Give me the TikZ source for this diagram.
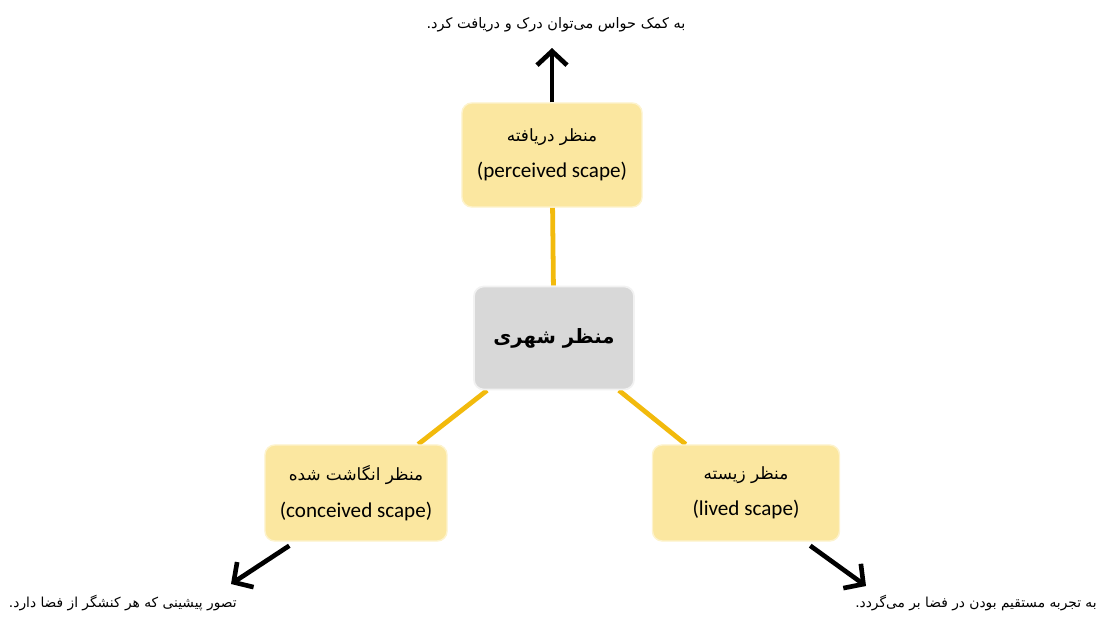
\documentclass[tikz,border=0pt]{standalone}
\usepackage{fontspec}
\setmainfont{Carlito}
\newfontfamily\persianfont[Script=Arabic]{DejaVu Sans}
\TeXXeTstate=1
\usetikzlibrary{positioning}
\usetikzlibrary{arrows.meta}
\usetikzlibrary{backgrounds}
\definecolor{scapeyellow}{RGB}{251,231,160}
\definecolor{scapeedge}{RGB}{253,243,205}
\definecolor{citygray}{RGB}{216,216,216}
\definecolor{linkyellow}{RGB}{242,186,12}
\tikzset{
        boxnode/.style={align=center,inner sep=0pt,rounded corners=7pt},
        % Scape nodes
        node_scape/.style={boxnode, rectangle, fill=scapeyellow, draw=scapeedge, line width=1pt, font=\fontsize{15}{26}\selectfont},
        % Centre node
        node_city/.style={boxnode, rectangle, fill=citygray, draw=white!90!gray, line width=1.2pt, font=\fontsize{14}{18}\selectfont},
        % Notes
        node_note/.style={inner sep=0pt, font=\persianfont\fontsize{10.3}{13}\selectfont},
        node_note_small/.style={node_note, font=\persianfont\fontsize{9.8}{13}\selectfont},
        % Links
        edge_link/.style={linkyellow, line width=3.4pt},
        edge_arrow/.style={black, line width=3.3pt, -{Straight Barb[length=0.35cm,width=0.75cm]}}
}
\newcommand{\fa}[1]{{\persianfont\fontsize{12}{26}\selectfont\beginR #1\endR}}

\begin{document}
\begin{tikzpicture}[x=0.025cm, y=-0.025cm]
    \useasboundingbox (0,0) rectangle (1101,620);
    \node[node_city, minimum width=4cm, minimum height=2.575cm] (city) at (554,338) {\persianfont\bfseries\beginR منظر شهری\endR};
    \node[node_scape, minimum width=4.5cm, minimum height=2.6cm] (perceived) at (552,155)
        {\fa{منظر دریافته}\\(perceived scape)};
    \node[node_scape, minimum width=4.55cm, minimum height=2.4cm] (conceived) at (356,493)
        {\fa{منظر انگاشت شده}\\(conceived scape)};
    \node[node_scape, minimum width=4.675cm, minimum height=2.4cm] (lived) at (746,493)
        {\fa{منظر زیسته}\\(lived scape)};
    \begin{scope}[on background layer]
        \draw[edge_link] (city) -- (perceived);
        \draw[edge_link] (city) -- (conceived);
        \draw[edge_link] (city) -- (lived);
    \end{scope}
    \node[node_note] (perceivedNote) at (556,25) {\beginR به کمک حواس می‌توان درک و دریافت کرد.\endR};
    \node[node_note_small, anchor=east] (conceivedNote) at (237,603) {\beginR تصور پیشینی که هر کنشگر از فضا دارد.\endR};
    \node[node_note_small, anchor=east] (livedNote) at (1097,603) {\beginR به تجربه مستقیم بودن در فضا بر می‌گردد.\endR};
    \coordinate (perceivedTip) at (552,48);
    \coordinate (conceivedTip) at (231,584);
    \coordinate (livedTip) at (866,586);
    \draw[edge_arrow] (perceived.north) -- (perceivedTip);
    \draw[edge_arrow] ([shift={(25,4)}]conceived.south west) -- (conceivedTip);
    \draw[edge_arrow] ([shift={(-30,4)}]lived.south east) -- (livedTip);
\end{tikzpicture}
\end{document}
